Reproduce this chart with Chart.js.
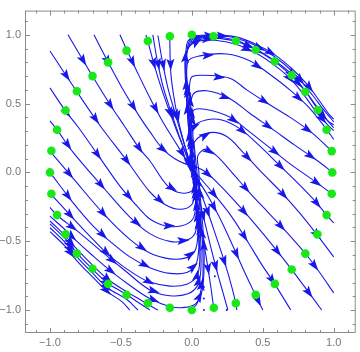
<html>
<head>
<meta charset="utf-8">
<title>Stream plot</title>
<script src="https://cdn.jsdelivr.net/npm/chart.js"></script>
<style>
  body { margin: 0; background: white; }
  #wrap { width: 360px; height: 352px; }
</style>
</head>
<body>
<div id="wrap"><canvas id="plot"></canvas></div>
<script>
// tick values
const majorTicks = [-1, -0.5, 0, 0.5, 1];
const minorTicks = [-1.1, -1, -0.9, -0.8, -0.7, -0.6, -0.5, -0.4, -0.3, -0.2, -0.1, 0, 0.1, 0.2, 0.3, 0.4, 0.5, 0.6, 0.7, 0.8, 0.9, 1, 1.1];

// green seed points on the circle
const seeds = [[0.99,0],[0.986,0.155],[0.95,0.31],[0.887,0.454],[0.80,0.586],[0.704,0.706],[0.585,0.807],[0.45,0.89],[0.31,0.955],[0.153,0.99],[0,1.0],[-0.155,0.99],[-0.31,0.955],[-0.46,0.885],[-0.59,0.80],[-0.70,0.70],[-0.81,0.59],[-0.89,0.45],[-0.95,0.31],[-0.99,0.157],[-1.0,0],[-0.99,-0.155],[-0.95,-0.31],[-0.89,-0.45],[-0.81,-0.59],[-0.70,-0.70],[-0.59,-0.81],[-0.46,-0.89],[-0.31,-0.95],[-0.155,-0.984],[0,-1.0],[0.155,-0.984],[0.31,-0.95],[0.45,-0.89],[0.585,-0.81],[0.704,-0.705],[0.80,-0.59],[0.885,-0.45],[0.95,-0.31],[0.986,-0.155]];

// little stray dots near the bottom
const dots = [[0.085,-0.833],[0.085,-0.917],[0.085,-1.0],[0.162,-0.67],[0.162,-0.755],[0.246,-1.0]];

// streamlines coming down from the top edge
const lineT4 = [[-0.156,1.0],[-0.148,0.72],[-0.12,0.508],[-0.085,0.332],[-0.049,0.191],[-0.021,0.085],[0,-0.021],[0.028,-0.162],[0.056,-0.339],[0.085,-0.515],[0.113,-0.692],[0.134,-0.833],[0.155,-0.988],[0.16,-1.0]];
const lineT3 = [[-0.239,0.995],[-0.211,0.826],[-0.169,0.614],[-0.12,0.438],[-0.07,0.261],[-0.028,0.12],[0,0.014],[0.035,-0.127],[0.077,-0.303],[0.127,-0.515],[0.176,-0.713],[0.218,-0.868],[0.254,-1.0]];
const lineT2 = [[-0.275,1.0],[-0.246,0.826],[-0.204,0.628],[-0.148,0.445],[-0.092,0.275],[-0.042,0.134],[-0.007,0.035],[0.042,-0.092],[0.106,-0.268],[0.169,-0.459],[0.232,-0.656],[0.282,-0.833],[0.31,-0.953],[0.317,-1.0]];
const lineT1 = [[-0.324,1.0],[-0.31,0.953],[-0.268,0.79],[-0.211,0.6],[-0.155,0.438],[-0.099,0.282],[-0.049,0.155],[-0.014,0.064],[0.035,-0.035],[0.12,-0.183],[0.211,-0.36],[0.296,-0.55],[0.373,-0.727],[0.451,-0.896],[0.5,-1.0]];
const lineS117 = [[-0.507,1.0],[-0.458,0.889],[-0.387,0.734],[-0.296,0.543],[-0.204,0.367],[-0.12,0.226],[-0.056,0.12],[-0.014,0.049],[0.042,-0.021],[0.148,-0.148],[0.268,-0.303],[0.38,-0.48],[0.493,-0.67],[0.585,-0.812],[0.697,-1.0]];
const lineS126 = [[-0.69,1.0],[-0.592,0.805],[-0.472,0.579],[-0.366,0.402],[-0.296,0.296],[-0.204,0.169],[-0.12,0.099],[-0.049,0.064],[0.007,0.049],[0.092,0.007],[0.197,-0.092],[0.324,-0.233],[0.444,-0.374],[0.585,-0.55],[0.704,-0.706],[0.831,-0.882],[0.915,-1.0]];

// streamlines from the left that turn up the column and peel off to the right
const lineC1 = [[-1,-0.318],[-0.894,-0.416],[-0.81,-0.501],[-0.704,-0.6],[-0.592,-0.699],[-0.458,-0.805],[-0.296,-0.917],[-0.155,-0.974],[-0.049,-0.981],[0.028,-0.953],[0.07,-0.868],[0.085,-0.727],[0.085,-0.515],[0.07,-0.303],[0.056,-0.127],[0.049,0.014],[0.042,0.12],[0.099,0.169],[0.176,0.12],[0.282,0],[0.408,-0.148],[0.549,-0.303],[0.69,-0.459],[0.803,-0.593],[0.901,-0.727],[1.0,-0.875]];
const lineC2 = [[-0.021,-1.0],[0.028,-0.967],[0.056,-0.896],[0.077,-0.762],[0.077,-0.55],[0.063,-0.339],[0.049,-0.162],[0.035,0.014],[0.021,0.155],[0.021,0.226],[0.127,0.289],[0.246,0.261],[0.359,0.148],[0.493,0],[0.634,-0.148],[0.761,-0.296],[0.887,-0.459],[1.0,-0.614]];
const lineC3 = [[-1,-0.254],[-0.951,-0.311],[-0.81,-0.423],[-0.648,-0.565],[-0.472,-0.713],[-0.296,-0.854],[-0.155,-0.896],[-0.028,-0.882],[0.042,-0.819],[0.063,-0.713],[0.063,-0.515],[0.049,-0.303],[0.035,-0.127],[0.021,0.049],[0.014,0.191],[0.014,0.332],[0.099,0.381],[0.211,0.381],[0.338,0.318],[0.465,0.205],[0.606,0.064],[0.761,-0.092],[0.866,-0.205],[0.951,-0.311],[1.0,-0.367]];
const lineC4 = [[-1,-0.15],[-0.838,-0.332],[-0.683,-0.501],[-0.563,-0.621],[-0.401,-0.741],[-0.296,-0.797],[-0.155,-0.826],[-0.035,-0.812],[0.035,-0.755],[0.056,-0.642],[0.049,-0.445],[0.035,-0.233],[0.021,-0.056],[0.007,0.12],[0,0.296],[0.007,0.445],[0.092,0.459],[0.268,0.402],[0.387,0.311],[0.535,0.191],[0.69,0.064],[0.845,-0.049],[0.986,-0.155],[1.0,-0.169]];
const lineC5 = [[-1,0],[-0.838,-0.219],[-0.697,-0.388],[-0.577,-0.501],[-0.437,-0.614],[-0.296,-0.692],[-0.155,-0.734],[-0.035,-0.727],[0.028,-0.67],[0.049,-0.55],[0.042,-0.374],[0.028,-0.198],[0.014,-0.021],[0,0.155],[-0.007,0.367],[0.007,0.565],[0.106,0.593],[0.268,0.536],[0.408,0.43],[0.563,0.318],[0.725,0.198],[0.866,0.099],[0.993,0],[1.0,-0.007]];
const lineC6 = [[-1,0.155],[-0.838,-0.042],[-0.613,-0.311],[-0.437,-0.487],[-0.296,-0.586],[-0.155,-0.628],[-0.042,-0.621],[0.021,-0.572],[0.042,-0.459],[0.035,-0.268],[0.021,-0.092],[0.007,0.049],[-0.007,0.226],[-0.014,0.438],[-0.007,0.685],[0.077,0.706],[0.268,0.685],[0.387,0.6],[0.535,0.501],[0.69,0.402],[0.845,0.289],[0.986,0.155],[1.0,0.141]];
const lineC7 = [[-1,0.374],[-0.951,0.311],[-0.838,0.148],[-0.627,-0.106],[-0.437,-0.325],[-0.296,-0.445],[-0.155,-0.501],[-0.042,-0.494],[0.021,-0.445],[0.035,-0.339],[0.028,-0.162],[0.014,-0.021],[0,0.12],[-0.014,0.332],[-0.028,0.579],[-0.028,0.805],[0.056,0.847],[0.246,0.861],[0.408,0.812],[0.549,0.713],[0.69,0.6],[0.831,0.466],[0.951,0.311],[1.0,0.24]];
const lineC8 = [[-1,0.614],[-0.894,0.452],[-0.803,0.332],[-0.648,0.106],[-0.507,-0.099],[-0.366,-0.268],[-0.296,-0.339],[-0.19,-0.388],[-0.07,-0.388],[0.007,-0.339],[0.028,-0.233],[0.021,-0.092],[0.007,0.049],[-0.007,0.191],[-0.021,0.402],[-0.035,0.649],[-0.042,0.84],[-0.021,0.91],[0.042,0.953],[0.162,0.96],[0.31,0.932],[0.451,0.868],[0.577,0.783],[0.69,0.685],[0.789,0.565],[0.873,0.445],[0.951,0.353],[1.0,0.303]];
const lineC9 = [[-1,0.882],[-0.81,0.586],[-0.641,0.332],[-0.458,0.085],[-0.296,-0.141],[-0.19,-0.233],[-0.085,-0.268],[0,-0.233],[0.021,-0.127],[0.007,0.014],[-0.007,0.12],[-0.021,0.296],[-0.035,0.508],[-0.042,0.72],[-0.035,0.861],[-0.014,0.939],[0.028,0.981],[0.148,0.988],[0.31,0.96],[0.451,0.896],[0.585,0.812],[0.704,0.713],[0.803,0.586],[0.887,0.459],[0.958,0.374],[1.0,0.346]];
const lineC10 = [[-0.873,1.0],[-0.704,0.706],[-0.577,0.494],[-0.472,0.332],[-0.366,0.169],[-0.296,0.085],[-0.176,-0.092],[-0.085,-0.148],[0,-0.134],[0.014,-0.056],[0,0.049],[-0.014,0.191],[-0.028,0.402],[-0.042,0.614],[-0.049,0.79],[-0.042,0.882],[-0.028,0.953],[0.021,0.99],[0.148,0.998],[0.31,0.985],[0.451,0.932],[0.585,0.854],[0.704,0.755],[0.817,0.635],[0.908,0.508],[0.972,0.416],[1.0,0.388]];
const lineUBx = [[-0.035,0.896],[-0.007,0.967],[0.092,0.995],[0.232,0.993],[0.38,0.953],[0.521,0.882],[0.648,0.79],[0.761,0.677],[0.859,0.55],[0.937,0.445],[1.0,0.367]];
const lineUBy = [[-0.042,0.854],[-0.014,0.924],[0.056,0.967],[0.197,0.974],[0.352,0.939],[0.493,0.868],[0.62,0.776],[0.732,0.67],[0.831,0.55],[0.915,0.43],[1.0,0.325]];

// bundle hugging the circle at the lower left
const lineB2 = [[-1,-0.353],[-0.894,-0.459],[-0.81,-0.558],[-0.704,-0.67],[-0.592,-0.776],[-0.458,-0.868],[-0.366,-0.924],[-0.296,-0.967],[-0.239,-1.0]];
const lineB3 = [[-1,-0.374],[-0.894,-0.48],[-0.81,-0.586],[-0.704,-0.699],[-0.592,-0.805],[-0.458,-0.889],[-0.366,-0.953],[-0.296,-1.0]];
const lineB4 = [[-1,-0.402],[-0.894,-0.508],[-0.81,-0.614],[-0.704,-0.727],[-0.592,-0.84],[-0.458,-0.924],[-0.38,-1.0]];
const lineB5 = [[-1,-0.43],[-0.894,-0.536],[-0.81,-0.642],[-0.704,-0.755],[-0.592,-0.868],[-0.493,-0.939],[-0.437,-1.0]];

const streams = [lineT4, lineT3, lineT2, lineT1, lineS117, lineS126,
  lineC1, lineC2, lineC3, lineC4, lineC5, lineC6, lineC7, lineC8, lineC9, lineC10,
  lineUBx, lineUBy, lineB2, lineB3, lineB4, lineB5];

const blue = 'rgb(24,24,235)';
const green = 'rgb(24,232,24)';
const frameGray = '#8c8c8c';

const toXY = arr => arr.map(p => ({x: p[0], y: p[1]}));

const datasets = [
  { data: toXY(seeds), showLine: false, pointRadius: 4.3, pointHoverRadius: 4.3,
    backgroundColor: green, borderWidth: 0 },
  { data: toXY(dots), showLine: false, pointRadius: 1, backgroundColor: blue, borderWidth: 0 }
];
streams.forEach(s => datasets.push({
  data: toXY(s), showLine: true, stream: true, borderColor: blue, borderWidth: 1.1,
  pointRadius: 0, tension: 0.35, fill: false
}));

// arrowheads along each streamline
const arrowPlugin = {
  id: 'arrows',
  afterDatasetDraw(chart, args) {
    const ds = chart.data.datasets[args.index];
    if (!ds.stream) return;
    const pts = args.meta.data.map(p => [p.x, p.y]);
    const ctx = chart.ctx, a = chart.chartArea;
    ctx.save();
    ctx.beginPath();
    ctx.rect(a.left, a.top, a.right - a.left, a.bottom - a.top);
    ctx.clip();
    ctx.fillStyle = blue;
    let next = 30, run = 0;
    let total = 0;
    for (let i = 1; i < pts.length; i++) total += Math.hypot(pts[i][0]-pts[i-1][0], pts[i][1]-pts[i-1][1]);
    for (let i = 1; i < pts.length; i++) {
      const [x0, y0] = pts[i-1], [x1, y1] = pts[i];
      const len = Math.hypot(x1 - x0, y1 - y0);
      if (len === 0) continue;
      while (run + len >= next && next < total - 8) {
        const t = (next - run) / len;
        const x = x0 + (x1 - x0) * t, y = y0 + (y1 - y0) * t;
        const ux = (x1 - x0) / len, uy = (y1 - y0) / len;
        ctx.beginPath();
        ctx.moveTo(x + ux * 6, y + uy * 6);
        ctx.lineTo(x - ux * 6 - uy * 4, y - uy * 6 + ux * 4);
        ctx.lineTo(x - ux * 3.5, y - uy * 3.5);
        ctx.lineTo(x - ux * 6 + uy * 4, y - uy * 6 - ux * 4);
        ctx.closePath();
        ctx.fill();
        next += 52;
      }
      run += len;
    }
    ctx.restore();
  }
};

// Mathematica-like frame with inward ticks on all four sides
const framePlugin = {
  id: 'frame',
  beforeDatasetsDraw(chart) {
    const ctx = chart.ctx, a = chart.chartArea;
    const xs = chart.scales.x, ys = chart.scales.y;
    ctx.save();
    ctx.strokeStyle = frameGray;
    ctx.lineWidth = 1;
    ctx.strokeRect(a.left + 0.5, a.top + 0.5, a.right - a.left - 1, a.bottom - a.top - 1);
    minorTicks.forEach(v => {
      const major = majorTicks.some(m => Math.abs(m - v) < 1e-9);
      const L = major ? 5 : 3;
      const px = Math.round(xs.getPixelForValue(v)) + 0.5;
      const py = Math.round(ys.getPixelForValue(v)) + 0.5;
      ctx.beginPath();
      ctx.moveTo(px, a.bottom); ctx.lineTo(px, a.bottom - L);
      ctx.moveTo(px, a.top); ctx.lineTo(px, a.top + L);
      ctx.moveTo(a.left, py); ctx.lineTo(a.left + L, py);
      ctx.moveTo(a.right, py); ctx.lineTo(a.right - L, py);
      ctx.stroke();
    });
    ctx.restore();
  }
};

const fmt = v => (v < 0 ? '\u2212' : '') + Math.abs(v).toFixed(1);
const tickFont = { family: 'Liberation Sans, Arial, sans-serif', size: 11 };

new Chart(document.getElementById('plot'), {
  type: 'scatter',
  data: { datasets },
  options: {
    responsive: true,
    maintainAspectRatio: false,
    animation: false,
    layout: { padding: { left: 0, right: 4, top: 1, bottom: 0 } },
    plugins: { legend: { display: false }, tooltip: { enabled: false } },
    scales: {
      x: {
        type: 'linear', min: -1.176, max: 1.155,
        grid: { display: false, drawTicks: false }, border: { display: false },
        afterBuildTicks: s => { s.ticks = majorTicks.map(v => ({ value: v })); },
        afterFit: s => { s.height = 19; },
        ticks: { callback: fmt, color: '#777', font: tickFont, padding: 3, maxRotation: 0 }
      },
      y: {
        type: 'linear', min: -1.167, max: 1.176,
        grid: { display: false, drawTicks: false }, border: { display: false },
        afterBuildTicks: s => { s.ticks = majorTicks.map(v => ({ value: v })); },
        afterFit: s => { s.width = 25; },
        ticks: { callback: fmt, color: '#777', font: tickFont, padding: 4 }
      }
    }
  },
  plugins: [framePlugin, arrowPlugin]
});
</script>
</body>
</html>
